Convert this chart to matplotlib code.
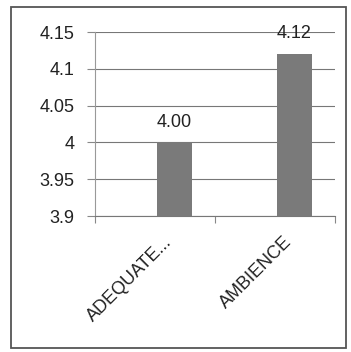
import numpy as np
import matplotlib.pyplot as plt
from matplotlib.patches import Rectangle

categories = ['ADEQUATE...', 'AMBIENCE']
values = [4.00, 4.12]
bar_labels = ['4.00', '4.12']
yticks = [3.9, 3.95, 4.0, 4.05, 4.1, 4.15]
ytick_labels = ['3.9', '3.95', '4', '4.05', '4.1', '4.15']

plt.rcParams['font.family'] = ['Liberation Sans', 'DejaVu Sans']

fig = plt.figure(figsize=(3.51, 3.52), dpi=100)
# outer chart frame
fig.patches.append(Rectangle((0.03, 0.012), 0.955, 0.967, transform=fig.transFigure,
                             fill=False, edgecolor='#555555', linewidth=1.3))
ax = fig.add_axes([0.2707, 0.386, 0.684, 0.523])

# bars sit a bit right of the category centres in the scan
x = np.arange(len(categories)) + 0.16
ax.bar(x, values, width=0.29, color='#7a7a7a', zorder=3)
for xi, v, lab in zip(x, values, bar_labels):
    ax.text(xi, v + 0.016, lab, ha='center', va='bottom', fontsize=13, color='#222222')

ax.set_xlim(-0.5, 1.5)
ax.set_ylim(3.9, 4.15)
ax.set_yticks(yticks)
ax.set_yticklabels(ytick_labels, fontsize=13, color='#222222')
ax.set_xticks([-0.5, 0.5, 1.5])
ax.set_xticklabels([])
ax.set_xticks(x - 0.05, minor=True)
ax.set_xticklabels(categories, minor=True, rotation=45, ha='right',
                   va='center_baseline', rotation_mode='anchor', fontsize=13, color='#222222')
ax.tick_params(axis='x', which='minor', length=0, pad=16)
ax.tick_params(axis='x', which='major', length=5, direction='out', color='#888888')
ax.tick_params(axis='y', length=6, direction='out', color='#888888', pad=9)
ax.grid(axis='y', color='#777777', linewidth=0.8, zorder=0)
for s in ['top', 'right']:
    ax.spines[s].set_visible(False)
ax.spines['left'].set_color('#999999')
ax.spines['bottom'].set_color('#777777')

fig.savefig('out.png', dpi=100)
